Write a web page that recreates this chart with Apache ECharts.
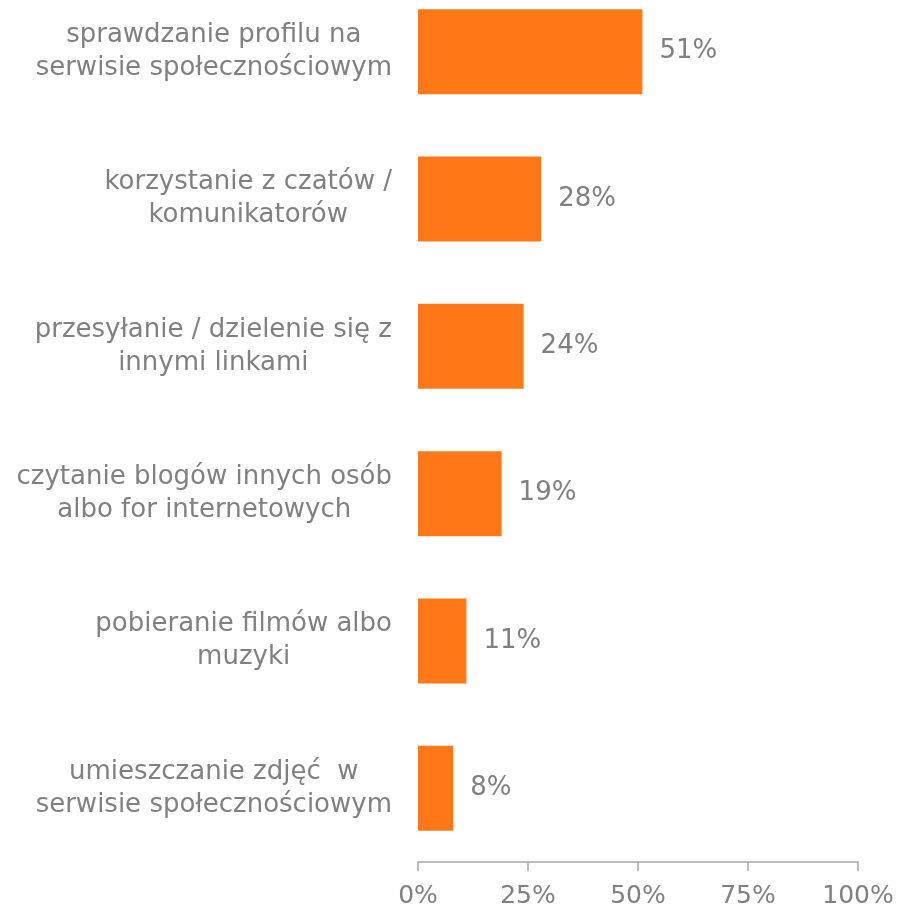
<!DOCTYPE html>
<html>
<head>
<meta charset="utf-8">
<script src="https://cdn.jsdelivr.net/npm/echarts@6/dist/echarts.min.js"></script>
<style>html,body{margin:0;padding:0;background:#fff;overflow:hidden}#c{width:900px;height:931px;margin-top:-22px}</style>
</head>
<body>
<div id="c"></div>
<script>
var categories = [
  ["sprawdzanie profilu na", "serwisie społecznościowym"],
  ["korzystanie z czatów /", "komunikatorów"],
  ["przesyłanie / dzielenie się z", "innymi linkami"],
  ["czytanie blogów innych osób", "albo for internetowych"],
  ["pobieranie filmów albo", "muzyki"],
  ["umieszczanie zdjęć  w", "serwisie społecznościowym"]
];
var values = [51, 28, 24, 19, 11, 8];
var xTicks = [0, 25, 50, 75, 100];

var chart = echarts.init(document.getElementById('c'));
var FONT = 'DejaVu Sans';
var GRAY = '#808080';
chart.setOption({
  animation: false,
  grid: { left: 418, right: 42, top: 0, bottom: 46, containLabel: false },
  xAxis: {
    type: 'value', min: 0, max: 100, interval: 25,
    axisLine: { show: true, lineStyle: { color: '#a6a6a6', width: 1.5 } },
    axisTick: { show: true, length: 9, lineStyle: { color: '#a6a6a6', width: 1.5 } },
    splitLine: { show: false },
    axisLabel: { color: GRAY, fontFamily: FONT, fontSize: 25, margin: 22,
      formatter: function (v) { return xTicks.indexOf(v) >= 0 ? v + '%' : ''; } }
  },
  yAxis: {
    type: 'category', inverse: true,
    data: categories.map(function (c) { return c.join('\n'); }),
    axisLine: { show: false }, axisTick: { show: false },
    axisLabel: {
      margin: 26, align: 'right',
      formatter: function (v) { return v.split('\n').map(function (l) { return '{a|' + l + '}'; }).join('\n'); },
      rich: { a: { align: 'center', color: GRAY, fontFamily: FONT, fontSize: 26, lineHeight: 33 } }
    }
  },
  series: [{
    type: 'bar', data: values, barWidth: 85,
    itemStyle: { color: '#FF7817' },
    label: { show: true, position: 'right', distance: 17, color: GRAY, fontFamily: FONT, fontSize: 26,
      formatter: function (p) { return p.value + '%'; } }
  }]
});
</script>
</body>
</html>
